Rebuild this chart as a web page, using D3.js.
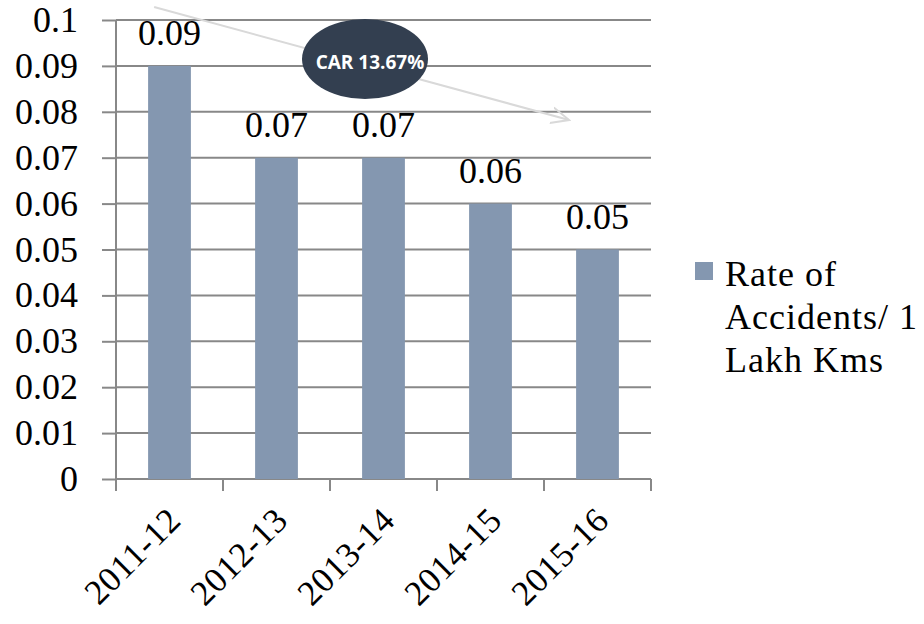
<!DOCTYPE html>
<html>
<head>
<meta charset="utf-8">
<script src="https://cdn.jsdelivr.net/npm/d3@7"></script>
<style>
  body { margin: 0; background: #fff; }
  svg { display: block; }
</style>
</head>
<body>
<svg id="chart"></svg>
<script>
const years = ["2011-12", "2012-13", "2013-14", "2014-15", "2015-16"];
const rates = [0.09, 0.07, 0.07, 0.06, 0.05];
const yTicks = [0, 0.01, 0.02, 0.03, 0.04, 0.05, 0.06, 0.07, 0.08, 0.09, 0.1];
const legendLines = ["Rate of", "Accidents/ 1", "Lakh Kms"];
const carLabel = "CAR 13.67%";

const width = 924, height = 624;
const svg = d3.select("#chart").attr("width", width).attr("height", height);
const serif = "'Liberation Serif', 'DejaVu Serif', serif";

const plotL = 116, plotR = 651, plotT = 20, plotB = 479;

const x = d3.scaleBand().domain(years).range([plotL, plotR]).paddingInner(0.6).paddingOuter(0.3);
const y = d3.scaleLinear().domain([0, 0.1]).range([plotB, plotT]);

// gridlines + y axis
const yAxis = d3.axisLeft(y).tickValues(yTicks).tickSize(14).tickFormat(d => d === 0 ? "0" : String(+d.toFixed(2)));
const gy = svg.append("g").attr("transform", `translate(${plotL},0)`).call(yAxis);
gy.select(".domain").remove();
gy.selectAll(".tick line").attr("stroke", "#888").attr("stroke-width", 2);
gy.selectAll(".tick text").attr("x", -38).attr("font-family", serif).attr("font-size", 36).attr("fill", "#000");

svg.append("g").selectAll("line").data(yTicks).enter().append("line")
  .attr("x1", plotL).attr("x2", plotR)
  .attr("y1", d => y(d)).attr("y2", d => y(d))
  .attr("stroke", "#888").attr("stroke-width", 2);

svg.append("line").attr("x1", plotL).attr("x2", plotL).attr("y1", plotT).attr("y2", plotB)
  .attr("stroke", "#888").attr("stroke-width", 2);

// x axis ticks at band edges
const edges = years.map(d => x(d) - x.step() * x.paddingInner() / 2).concat([plotR]);
edges[0] = plotL;
svg.append("g").selectAll("line").data(edges).enter().append("line")
  .attr("x1", d => d).attr("x2", d => d).attr("y1", plotB).attr("y2", plotB + 12)
  .attr("stroke", "#888").attr("stroke-width", 2);

// bars
svg.append("g").selectAll("rect").data(rates).enter().append("rect")
  .attr("x", (d, i) => x(years[i]))
  .attr("width", x.bandwidth())
  .attr("y", d => y(d))
  .attr("height", d => plotB - y(d))
  .attr("fill", "#8497b0");

// value labels
svg.append("g").selectAll("text").data(rates).enter().append("text")
  .attr("x", (d, i) => x(years[i]) + x.bandwidth() / 2)
  .attr("y", d => y(d) - 21)
  .attr("text-anchor", "middle")
  .attr("font-family", serif).attr("font-size", 36)
  .text(d => d.toFixed(2));

// x labels rotated
svg.append("g").selectAll("text").data(years).enter().append("text")
  .attr("transform", d => `translate(${x(d) + x.bandwidth() / 2 - 4},${plotB + 26}) rotate(-45)`)
  .attr("text-anchor", "end")
  .attr("dy", "0.7em")
  .attr("font-family", serif).attr("font-size", 35)
  .attr("letter-spacing", 0.5)
  .text(d => d);

// trend arrow
svg.append("defs").append("marker")
  .attr("id", "arrow").attr("viewBox", "0 0 20 20").attr("refX", 18).attr("refY", 10)
  .attr("markerWidth", 20).attr("markerHeight", 20).attr("markerUnits", "userSpaceOnUse")
  .attr("orient", "auto")
  .append("path").attr("d", "M0,2 L18,10 L0,18").attr("fill", "none")
  .attr("stroke", "#d9d9d9").attr("stroke-width", 2);

svg.append("line")
  .attr("x1", x(years[0]) + 6).attr("y1", 7)
  .attr("x2", x(years[4]) - 7).attr("y2", 120)
  .attr("stroke", "#d9d9d9").attr("stroke-width", 2)
  .attr("marker-end", "url(#arrow)");

// CAR ellipse
svg.append("ellipse").attr("cx", 365).attr("cy", 59).attr("rx", 63).attr("ry", 40).attr("fill", "#333f50");
svg.append("text").attr("x", 370).attr("y", 69)
  .attr("text-anchor", "middle")
  .attr("font-family", "'Open Sans', 'DejaVu Sans', sans-serif").attr("font-weight", "bold")
  .attr("font-size", 19).attr("fill", "#fff")
  .text(carLabel);

// legend
svg.append("rect").attr("x", 695).attr("y", 262).attr("width", 18).attr("height", 18).attr("fill", "#8497b0");
svg.append("g").selectAll("text").data(legendLines).enter().append("text")
  .attr("x", 725).attr("y", (d, i) => 286 + i * 43)
  .attr("font-family", serif).attr("font-size", 36)
  .attr("letter-spacing", 1)
  .text(d => d);
</script>
</body>
</html>
